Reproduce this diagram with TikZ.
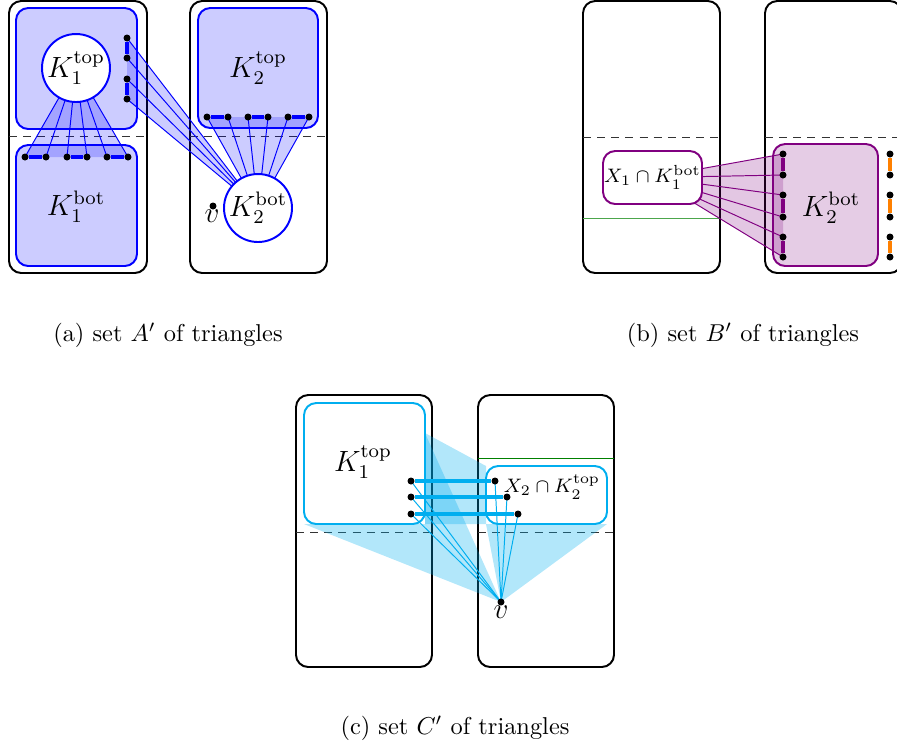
\documentclass[tikz,border=0pt]{standalone}
\usetikzlibrary{calc}
\pgfdeclarelayer{back}
\pgfdeclarelayer{mid}
\pgfsetlayers{back,mid,main}
\newlength{\pxu}
\setlength{\pxu}{0.41pt}
\definecolor{cy}{RGB}{0,174,239}
\newcommand{\mkbox}[6]{\node[#1, anchor=north west, minimum width=(#5-#3)*\pxu, minimum height=(#6-#4)*\pxu] (#2) at (#3,#4) {};}
\begin{document}
\begin{tikzpicture}[x=\pxu, y=-\pxu,
  outerbox/.style={draw=black, thick, rounded corners=5pt, inner sep=0pt, outer sep=0pt},
  bluebox/.style={draw=blue, thick, fill=blue!20, rounded corners=5pt, inner sep=0pt, outer sep=0pt},
  violetbox/.style={draw=violet, thick, fill=violet!20, rounded corners=5pt, inner sep=0pt, outer sep=0pt},
  cybox/.style={draw=cy, thick, rounded corners=5pt, inner sep=0pt, outer sep=0pt},
  xbox/.style={draw=violet, thick, fill=white, rounded corners=5pt, inner sep=0pt, font=\footnotesize},
  dashline/.style={draw=black!80, thin, dash pattern=on 3.3pt off 2.5pt},
  greenline/.style={draw=green!50!black, thin},
  dot/.style={circle, fill=black, inner sep=0pt, minimum size=7*\pxu},
  bedge/.style={draw=blue, line width=1.4pt},
  vedge/.style={draw=violet, line width=1.4pt},
  oedge/.style={draw=orange, line width=1.4pt},
  cedge/.style={draw=cy, line width=1.7pt},
  bwedge/.style={fill=blue, fill opacity=0.2},
  vwedge/.style={fill=violet, fill opacity=0.22},
  bline/.style={draw=blue, thin},
  vline/.style={draw=violet, thin},
  ctri/.style={fill=cy, fill opacity=0.3},
  cline/.style={draw=cy, thin},
  bcirc/.style={circle, draw=blue, thick, fill=white, minimum size=68*\pxu, inner sep=0pt, font=\large},
  lbl/.style={font=\large},
  captext/.style={font=\normalsize}
]
\useasboundingbox (0,0) rectangle (897,749);

% ================= (a) =================
\begin{pgfonlayer}{back}
\mkbox{outerbox}{aL}{9}{1}{147}{273}
\mkbox{outerbox}{aR}{190}{1}{327}{273}
\draw[dashline] (9,136) -- (147,136);
\draw[dashline] (190,136) -- (327,136);
\mkbox{bluebox}{aK1t}{16}{8}{137}{129}
\mkbox{bluebox}{aK1b}{16}{145}{137}{266}
\mkbox{bluebox}{aK2t}{198}{8}{318}{128}
\end{pgfonlayer}
\node[lbl] (aK2tl) at (258,68) {$K_2^{\mathrm{top}}$};
\node[lbl] (aK1bl) at (76,207) {$K_1^{\mathrm{bot}}$};
\node[bcirc] (aC1) at (76,68) {$K_1^{\mathrm{top}}$};
\node[bcirc] (aC2) at (258,208) {$K_2^{\mathrm{bot}}$};
\foreach \n/\y in {1/38,2/58,3/79,4/99} \node[dot] (ar\n) at (127,\y) {};
\foreach \n/\x in {1/25,2/46,3/67,4/87,5/107,6/128} \node[dot] (ab\n) at (\x,157) {};
\foreach \n/\x in {1/207,2/228,3/248,4/268,5/288,6/309} \node[dot] (at\n) at (\x,117) {};
\node[dot] (av) at (213,206) {};
\node[lbl] (avl) at (212,216) {$v$};
\begin{pgfonlayer}{mid}
\fill[bwedge] (aC1.center) -- (ab1.center) -- (ab6.center) -- cycle;
\fill[bwedge] (aC2.center) -- (ar1.center) -- (ar4.center) -- cycle;
\fill[bwedge] (aC2.center) -- (at1.center) -- (at6.center) -- cycle;
\foreach \p in {ab1,ab2,ab3,ab4,ab5,ab6}
  \draw[bline] (aC1.center) -- (\p.center);
\foreach \p in {ar1,ar2,ar3,ar4,at1,at2,at3,at4,at5,at6}
  \draw[bline] (aC2.center) -- (\p.center);
\end{pgfonlayer}
\foreach \i/\j in {ar1/ar2,ar3/ar4,ab1/ab2,ab3/ab4,ab5/ab6,at1/at2,at3/at4,at5/at6}
  \draw[bedge] (\i) -- (\j);
\node[captext] (capa) at (168,335) {(a) set $A'$ of triangles};

% ================= (b) =================
\begin{pgfonlayer}{back}
\mkbox{outerbox}{bL}{583}{1}{720}{273}
\mkbox{outerbox}{bR}{765}{1}{902}{273}
\draw[dashline] (583,137) -- (720,137);
\draw[dashline] (765,137) -- (902,137);
\draw[draw=green!50!black!70, thin] (583,218) -- (720,218);
\mkbox{violetbox}{bK2b}{773}{144}{878}{266}
\end{pgfonlayer}
\node[lbl] (bK2bl) at (831,208) {$K_2^{\mathrm{bot}}$};
\node[xbox, minimum width=99*\pxu, minimum height=53*\pxu] (bX) at (652.5,177.5) {$X_1\cap K_1^{\mathrm{bot}}$};
\foreach \n/\y in {1/154,2/175,3/195,4/217,5/237,6/257} {
  \node[dot] (bp\n) at (783,\y) {};
  \node[dot] (bo\n) at (890,\y) {};
}
\begin{pgfonlayer}{mid}
\fill[vwedge] (bX.center) -- (bp1.center) -- (bp6.center) -- cycle;
\foreach \p in {bp1,bp2,bp3,bp4,bp5,bp6}
  \draw[vline] (bX.center) -- (\p.center);
\end{pgfonlayer}
\foreach \i/\j in {1/2,3/4,5/6} {
  \draw[vedge] (bp\i) -- (bp\j);
  \draw[oedge] (bo\i) -- (bo\j);
}
\node[captext] (capb) at (743,335) {(b) set $B'$ of triangles};

% ================= (c) =================
\begin{pgfonlayer}{back}
\mkbox{outerbox}{cL}{296}{395}{432}{667}
\mkbox{outerbox}{cR}{478}{395}{614}{667}
\draw[dashline] (296,532) -- (432,532);
\draw[dashline] (478,532) -- (614,532);
\draw[greenline] (478,458) -- (614,458);
\mkbox{cybox}{cK1t}{304}{403}{425}{524}
\mkbox{cybox}{cX2}{486}{466}{607}{524}
\end{pgfonlayer}
\node[lbl] (cK1tl) at (363,462) {$K_1^{\mathrm{top}}$};
\node[font=\footnotesize] (cX2l) at (552,487) {$X_2\cap K_2^{\mathrm{top}}$};
\node[dot] (cl1) at (411,481) {};
\node[dot] (cl2) at (411,497) {};
\node[dot] (cl3) at (411,514) {};
\node[dot] (cr1) at (495,481) {};
\node[dot] (cr2) at (507,497) {};
\node[dot] (cr3) at (518,514) {};
\node[dot] (cv) at (501,602) {};
\node[lbl] (cvl) at (501,612) {$v$};
\coordinate (cNE) at (425,433);
\begin{pgfonlayer}{mid}
\fill[ctri] (cNE) -- (cX2.north west) -- (cX2.south west) -- (cK1t.south east) -- cycle;
\fill[ctri] (cNE) -- (cK1t.south east) -- (cv.center) -- cycle;
\fill[ctri] (cK1t.south west) -- (cK1t.south east) -- (cv.center) -- cycle;
\fill[ctri] (cX2.south west) -- (cX2.south east) -- (cv.center) -- cycle;
\foreach \p in {cl1,cl2,cl3,cr1,cr2,cr3}
  \draw[cline] (cv.center) -- (\p.center);
\end{pgfonlayer}
\draw[cedge] (cl1) -- (cr1);
\draw[cedge] (cl2) -- (cr2);
\draw[cedge] (cl3) -- (cr3);
\node[captext] (capc) at (455,728) {(c) set $C'$ of triangles};
\end{tikzpicture}
\end{document}
